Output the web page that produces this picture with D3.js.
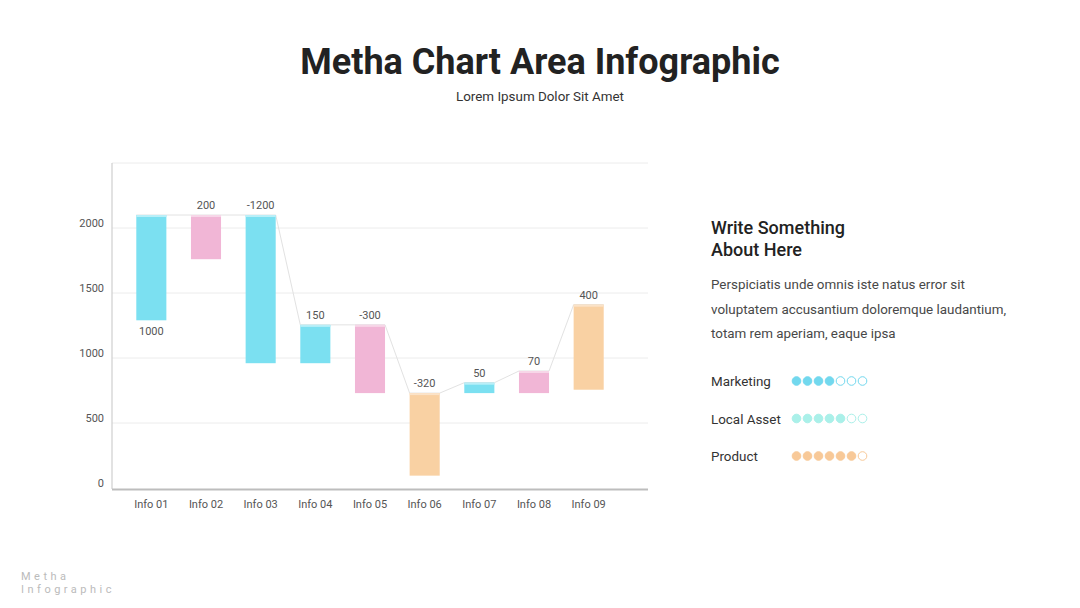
<!DOCTYPE html>
<html>
<head>
<meta charset="utf-8">
<script src="https://cdn.jsdelivr.net/npm/d3@7"></script>
<style>
  body { margin: 0; background: #fff; font-family: Roboto, "Open Sans", sans-serif; }
  svg { display: block; }
</style>
</head>
<body>
<div id="chart"></div>
<script>
// chart values
const categories = ["Info 01", "Info 02", "Info 03", "Info 04", "Info 05", "Info 06", "Info 07", "Info 08", "Info 09"];
const barLow = [1290, 1760, 960, 960, 730, 95, 730, 730, 756];
const barHigh = [2100, 2100, 2100, 1255, 1255, 730, 810, 900, 1410];
const valueLabels = ["1000", "200", "-1200", "150", "-300", "-320", "50", "70", "400"];
const barGroup = ["a", "b", "a", "a", "b", "c", "a", "b", "c"];
const yTicks = [0, 500, 1000, 1500, 2000];

const legendNames = ["Marketing", "Local Asset", "Product"];
const legendFilled = [4, 5, 6];
const legendTotal = 7;

const fillColor = {a: "#7be0f1", b: "#f1b6d6", c: "#f9d1a3"};
const capColor = {a: "#b9eff8", b: "#f7d6e8", c: "#fbe3c8"};
const dotColors = ["#72d8ee", "#aaf0e9", "#f8c998"];

const W = 1080, H = 608;
const svg = d3.select("#chart").append("svg")
    .attr("width", W)
    .attr("height", H);

// titles
svg.append("text")
    .attr("x", 540).attr("y", 74)
    .attr("text-anchor", "middle")
    .attr("font-size", 36).attr("font-weight", 700)
    .attr("fill", "#222")
    .text("Metha Chart Area Infographic");

svg.append("text")
    .attr("x", 540).attr("y", 101)
    .attr("text-anchor", "middle")
    .attr("font-size", 13.4).attr("fill", "#333")
    .text("Lorem Ipsum Dolor Sit Amet");

// plot area
const plotL = 112, plotR = 648, plotT = 163, plotB = 488;

const x = d3.scaleBand()
    .domain(categories)
    .range([124, 616])
    .paddingInner(0.45)
    .paddingOuter(0.225);

const y = d3.scaleLinear()
    .domain([0, 2500])
    .range([plotB, plotT]);

// grid
svg.append("g")
    .selectAll("line")
    .data(yTicks.slice(1).concat([2500]))
    .join("line")
    .attr("x1", plotL).attr("x2", plotR)
    .attr("y1", d => y(d)).attr("y2", d => y(d))
    .attr("stroke", "#ececec").attr("stroke-width", 1);

// y axis (labels sit a little above their grid lines)
const yAxis = svg.append("g")
    .attr("transform", "translate(" + plotL + ",-5)")
    .call(d3.axisLeft(y).tickValues(yTicks).tickFormat(d3.format("d")).tickSize(0).tickPadding(8));
yAxis.select(".domain").remove();
yAxis.selectAll("text")
    .attr("font-family", "Roboto, sans-serif")
    .attr("font-size", 11).attr("fill", "#555");

svg.append("line")
    .attr("x1", plotL).attr("x2", plotL)
    .attr("y1", plotT).attr("y2", plotB + 1)
    .attr("stroke", "#cfcfcf").attr("stroke-width", 1.2);

// x axis
const xAxis = svg.append("g")
    .attr("transform", "translate(0," + (plotB + 1) + ")")
    .call(d3.axisBottom(x).tickSize(0).tickPadding(11));
xAxis.select(".domain").remove();
xAxis.selectAll("text")
    .attr("font-family", "Roboto, sans-serif")
    .attr("font-size", 11).attr("fill", "#555");

svg.append("line")
    .attr("x1", plotL).attr("x2", plotR)
    .attr("y1", plotB + 1.5).attr("y2", plotB + 1.5)
    .attr("stroke", "#bdbdbd").attr("stroke-width", 2);

// connector line through bar tops
let pts = [];
categories.forEach((c, i) => {
    pts.push([x(c), y(barHigh[i])]);
    pts.push([x(c) + x.bandwidth(), y(barHigh[i])]);
});
svg.append("path")
    .attr("d", d3.line()(pts))
    .attr("fill", "none")
    .attr("stroke", "#e2e2e2")
    .attr("stroke-width", 1);

// bars
const bars = svg.append("g").selectAll("g")
    .data(categories)
    .join("g");

bars.append("rect")
    .attr("x", d => x(d))
    .attr("y", (d, i) => y(barHigh[i]))
    .attr("width", x.bandwidth())
    .attr("height", (d, i) => y(barLow[i]) - y(barHigh[i]))
    .attr("fill", (d, i) => fillColor[barGroup[i]]);

bars.append("rect")
    .attr("x", d => x(d))
    .attr("y", (d, i) => y(barHigh[i]))
    .attr("width", x.bandwidth())
    .attr("height", 2)
    .attr("fill", (d, i) => capColor[barGroup[i]]);

// value labels, first one sits under its bar
bars.append("text")
    .attr("x", d => x(d) + x.bandwidth() / 2)
    .attr("y", (d, i) => i == 0 ? y(barLow[i]) + 15 : y(barHigh[i]) - 6)
    .attr("text-anchor", "middle")
    .attr("font-size", 11).attr("fill", "#555")
    .text((d, i) => valueLabels[i]);

// right text block
const tx = 711;
svg.append("text")
    .attr("x", tx).attr("y", 234)
    .attr("font-size", 18).attr("font-weight", 500).attr("fill", "#222")
    .text("Write Something");
svg.append("text")
    .attr("x", tx).attr("y", 256)
    .attr("font-size", 18).attr("font-weight", 500).attr("fill", "#222")
    .text("About Here");

const para = ["Perspiciatis unde omnis iste natus error sit",
    "voluptatem accusantium doloremque laudantium,",
    "totam rem aperiam, eaque ipsa"];
svg.append("g").selectAll("text")
    .data(para)
    .join("text")
    .attr("x", tx).attr("y", (d, i) => 289 + i * 24.5)
    .attr("font-size", 13.4).attr("fill", "#484848")
    .text(d => d);

// rating legend
const legend = svg.append("g").selectAll("g")
    .data(legendNames)
    .join("g")
    .attr("transform", (d, i) => "translate(" + tx + "," + (381 + i * 37.5) + ")");

legend.append("text")
    .attr("y", 5)
    .attr("font-size", 13.4).attr("fill", "#333")
    .text(d => d);

legend.each(function (d, i) {
    d3.select(this).selectAll("circle")
        .data(d3.range(legendTotal))
        .join("circle")
        .attr("cx", k => 85.5 + k * 11)
        .attr("cy", 0)
        .attr("r", 4.3)
        .attr("fill", k => k < legendFilled[i] ? dotColors[i] : "#fff")
        .attr("stroke", dotColors[i])
        .attr("stroke-width", 1);
});

// footer
svg.append("text")
    .attr("x", 21).attr("y", 580)
    .attr("font-size", 11).attr("letter-spacing", 3.5).attr("fill", "#bbb")
    .text("Metha");
svg.append("text")
    .attr("x", 21).attr("y", 593)
    .attr("font-size", 11).attr("letter-spacing", 3.5).attr("fill", "#bbb")
    .text("Infographic");
</script>
</body>
</html>
